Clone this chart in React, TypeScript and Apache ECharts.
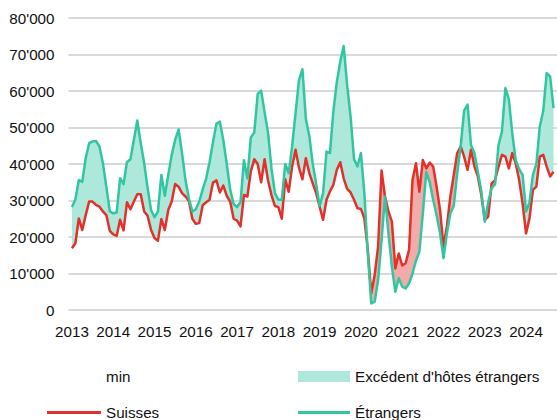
import React, { useEffect, useRef } from "react";
import * as echarts from "echarts";

// Monthly values, Jan 2013 – Sep 2024
const suisses: number[] = [
  // 2013
  16900, 18300, 25100, 21900, 26000, 29700, 29700, 28800, 28300, 27000, 26000, 21700,
  // 2014
  20700, 20300, 24700, 21800, 29500, 27600, 29700, 31700, 31700, 27000, 25800, 21900,
  // 2015
  19700, 19000, 24900, 21900, 27400, 29700, 34500, 33800, 32000, 31100, 29900, 25000,
  // 2016
  23600, 23800, 28700, 29500, 30200, 34900, 35500, 32200, 34100, 31300, 29700, 25000,
  // 2017
  24500, 22900, 31500, 31100, 38000, 41300, 40000, 35000, 41300, 35500, 31500, 28500,
  // 2018
  28200, 25000, 35800, 32400, 39300, 43900, 39000, 35800, 41600, 37500, 34700, 32000,
  // 2019
  28300, 24700, 30200, 32500, 34300, 38400, 40500, 36000, 33200, 32200, 30200, 27900,
  // 2020
  27700, 25100, 16500, 4600, 9600, 17400, 38200, 31100, 27000, 24200, 11400, 15500,
  // 2021
  12200, 12800, 16500, 35600, 40200, 32400, 41100, 38800, 40400, 39300, 33800, 27400,
  // 2022
  17400, 22900, 31100, 37000, 43000, 44800, 42000, 38400, 43900, 39300, 36600, 31500,
  // 2023
  24700, 25600, 34700, 35600, 39300, 42500, 42000, 38800, 43000, 40200, 35600, 29200,
  // 2024
  21000, 25100, 32900, 33800, 42000, 42500, 39300, 36600, 37900,
];

const etrangers: number[] = [
  // 2013
  28200, 30300, 35600, 35100, 41600, 45700, 46200, 46300, 44800, 40200, 33800, 27000,
  // 2014
  26500, 26700, 36100, 34500, 40500, 41300, 46600, 51900, 45700, 40200, 33400, 27400,
  // 2015
  25400, 27000, 37000, 31300, 37000, 42500, 46600, 49500, 43000, 35600, 30600, 27000,
  // 2016
  27600, 29700, 33000, 36000, 40500, 46000, 51000, 51600, 46500, 40000, 33000, 29000,
  // 2017
  28200, 29500, 41000, 36000, 47300, 48600, 59200, 60100, 54200, 48600, 38800, 32000,
  // 2018
  30200, 30200, 40000, 37500, 44800, 53900, 63000, 66000, 52300, 47700, 40000, 34500,
  // 2019
  28500, 32000, 43400, 43000, 54500, 62500, 68000, 72300, 61500, 53000, 41300, 39300,
  // 2020
  43000, 32000, 15500, 1800, 2300, 8200, 19000, 31100, 21000, 11900, 5000, 8700,
  // 2021
  6400, 5900, 7300, 10000, 13500, 16000, 26500, 37800, 35000, 30200, 26000, 21000,
  // 2022
  14200, 21000, 26500, 28500, 37500, 44800, 54600, 56300, 45200, 43000, 37800, 32600,
  // 2023
  24200, 29500, 33400, 34500, 45200, 48900, 60800, 57800, 48400, 41000, 38600, 37000,
  // 2024
  27000, 29500, 37000, 40000, 50300, 54500, 64900, 64000, 55300,
];

const years: number[] = [2013, 2014, 2015, 2016, 2017, 2018, 2019, 2020, 2021, 2022, 2023, 2024];

const SERIES_MIN = "min";
const SERIES_EXC = "Excédent d'hôtes étrangers";
const SERIES_EXC_CH = "Excédent d'hôtes suisses";
const SERIES_CH = "Suisses";
const SERIES_ET = "Étrangers";

const FONT = "'Liberation Sans', Arial, sans-serif";
const FONT_SIZE = 15.2;
const RED = "#E2302A";
const RED_FILL = "#F2ABA8";
const TEAL = "#30C6A0";
const TEAL_FILL = "#AEE8DA";

function pad2(n: number) {
  return n < 10 ? "0" + n : "" + n;
}

export default function App() {
  const ref = useRef<HTMLDivElement>(null);

  useEffect(() => {
    if (!ref.current) return;
    const chart = echarts.init(ref.current, undefined, { renderer: "svg" });

    // categories: one padding month before and after the data range
    const months: string[] = ["2012-12"];
    years.forEach((y) => {
      for (let m = 1; m <= 12; m++) {
        const idx = (y - 2013) * 12 + (m - 1);
        if (idx < suisses.length) months.push(y + "-" + pad2(m));
      }
    });
    months.push("2024-10");

    const pad = (a: (number | null)[]) => [null, ...a, null];
    const minArr = suisses.map((s, i) => Math.min(s, etrangers[i]));
    const excE = suisses.map((s, i) => Math.max(0, etrangers[i] - s));
    const excS = suisses.map((s, i) => Math.max(0, s - etrangers[i]));

    const textStyle = { color: "#111", fontFamily: FONT, fontSize: FONT_SIZE };
    const legendBase = {
      icon: "rect",
      selectedMode: false,
      textStyle,
      padding: 0,
    };

    chart.setOption({
      animation: false,
      grid: { left: 68.5, top: 18, width: 489, height: 292, containLabel: false },
      xAxis: {
        type: "category",
        data: months,
        boundaryGap: false,
        axisLine: { show: false },
        axisTick: { show: false },
        splitLine: { show: false },
        axisLabel: {
          interval: (_i: number, v: string) => v.endsWith("-01"),
          formatter: (v: string) => v.slice(0, 4),
          color: "#111",
          fontFamily: FONT,
          fontSize: FONT_SIZE,
          margin: 14,
          hideOverlap: false,
        },
      },
      yAxis: {
        type: "value",
        min: 0,
        max: 80000,
        interval: 10000,
        axisLine: { show: false },
        axisTick: { show: false },
        splitLine: { lineStyle: { color: "#d9d9d9", width: 2 } },
        axisLabel: {
          formatter: (v: number) => (v === 0 ? "0" : v / 1000 + "'000"),
          color: "#111",
          fontFamily: FONT,
          fontSize: FONT_SIZE,
          margin: 14,
        },
      },
      legend: [
        { ...legendBase, data: [SERIES_MIN], left: 47, top: 369, itemWidth: 54, itemHeight: 11 },
        { ...legendBase, data: [SERIES_EXC], left: 298, top: 369, itemWidth: 52, itemHeight: 11 },
        { ...legendBase, data: [SERIES_CH], left: 47, top: 405, itemWidth: 54, itemHeight: 3 },
        { ...legendBase, data: [SERIES_ET], left: 298, top: 405, itemWidth: 52, itemHeight: 3 },
      ],
      series: [
        {
          name: SERIES_MIN,
          type: "line",
          stack: "fill",
          data: pad(minArr),
          showSymbol: false,
          silent: true,
          itemStyle: { color: "rgba(0,0,0,0)" },
          lineStyle: { width: 0, opacity: 0 },
        },
        {
          name: SERIES_EXC,
          type: "line",
          stack: "fill",
          data: pad(excE),
          showSymbol: false,
          silent: true,
          itemStyle: { color: TEAL_FILL },
          lineStyle: { width: 0, opacity: 0 },
          areaStyle: { color: TEAL_FILL, opacity: 1 },
        },
        {
          name: SERIES_EXC_CH,
          type: "line",
          stack: "fill",
          data: pad(excS),
          showSymbol: false,
          silent: true,
          itemStyle: { color: RED_FILL },
          lineStyle: { width: 0, opacity: 0 },
          areaStyle: { color: RED_FILL, opacity: 1 },
        },
        {
          name: SERIES_CH,
          type: "line",
          data: pad(suisses),
          showSymbol: false,
          itemStyle: { color: RED },
          lineStyle: { color: RED, width: 2.5, join: "round" },
        },
        {
          name: SERIES_ET,
          type: "line",
          data: pad(etrangers),
          showSymbol: false,
          itemStyle: { color: TEAL },
          lineStyle: { color: TEAL, width: 2.5, join: "round" },
        },
      ],
    });

    return () => chart.dispose();
  }, []);

  return (
    <div
      ref={ref}
      style={{ position: "absolute", left: 0, top: 0, width: 557, height: 420 }}
    />
  );
}
